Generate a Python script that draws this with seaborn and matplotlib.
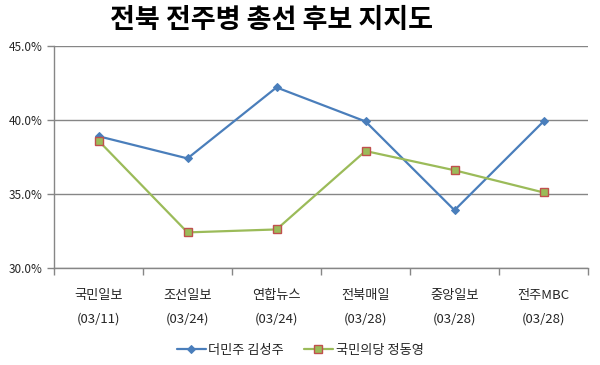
import matplotlib
matplotlib.use("Agg")
import matplotlib.pyplot as plt
import seaborn as sns
import pandas as pd
from matplotlib.ticker import FixedLocator, FuncFormatter

sns.set_theme(style="white")
plt.rcParams['font.family'] = ['Noto Sans CJK KR', 'DejaVu Sans']

pollsters = ["국민일보", "조선일보", "연합뉴스", "전북매일", "중앙일보", "전주MBC"]
dates = ["(03/11)", "(03/24)", "(03/24)", "(03/28)", "(03/28)", "(03/28)"]
series_names = ["더민주 김성주", "국민의당 정동영"]
kim = [38.9, 37.4, 42.2, 39.9, 33.9, 39.9]
jung = [38.6, 32.4, 32.6, 37.9, 36.6, 35.1]

rows = []
for i, p in enumerate(pollsters):
    rows.append({"x": i, "val": kim[i], "cand": series_names[0]})
    rows.append({"x": i, "val": jung[i], "cand": series_names[1]})
df = pd.DataFrame(rows)

fig = plt.figure(figsize=(6, 3.65), dpi=100)
ax = fig.add_axes([0.09, 0.266, 0.89, 0.608])

blue = "#4A7EBB"
green = "#9BBB59"
red = "#C0504D"

sns.lineplot(data=df[df.cand == series_names[0]], x="x", y="val", ax=ax,
             color=blue, lw=1.6, marker="D", markersize=4.5, markeredgecolor=blue,
             label=series_names[0], legend=False)
sns.lineplot(data=df[df.cand == series_names[1]], x="x", y="val", ax=ax,
             color=green, lw=1.6, marker="s", markersize=5.5, markerfacecolor=green,
             markeredgecolor=red, markeredgewidth=1.0,
             label=series_names[1], legend=False)

ax.set_xlim(-0.5, len(pollsters) - 0.5)
ax.set_ylim(30, 45)
ax.set_yticks([30, 35, 40, 45])
ax.yaxis.set_major_formatter(FuncFormatter(lambda v, p: f"{v:.1f}%"))
ax.grid(axis="y", color="#868686", lw=1)
ax.set_axisbelow(True)

ax.set_xticks(range(len(pollsters)))
ax.set_xticklabels([f"{p}\n{d}" for p, d in zip(pollsters, dates)],
                   fontsize=9.5, linespacing=2.1)
ax.xaxis.set_minor_locator(FixedLocator([i - 0.5 for i in range(len(pollsters) + 1)]))
ax.tick_params(axis="x", which="major", length=0, pad=15)
ax.tick_params(axis="x", which="minor", length=5, color="#868686", direction="out", width=1)
ax.tick_params(axis="y", length=5, color="#868686", direction="out", width=1, labelsize=8.5, pad=3)
ax.xaxis.set_tick_params(bottom=True, which="minor")
ax.yaxis.set_tick_params(left=True)

for s in ["top", "right"]:
    ax.spines[s].set_visible(False)
for s in ["left", "bottom"]:
    ax.spines[s].set_color("#868686")
    ax.spines[s].set_linewidth(1)

ax.set_xlabel("")
ax.set_ylabel("")

fig.text(0.453, 0.945, "전북 전주병 총선 후보 지지도", ha="center", va="center",
         fontsize=19.5, fontweight="bold", color="black")

handles, labels = ax.get_legend_handles_labels()
fig.legend(handles, labels, loc="center", bbox_to_anchor=(0.5, 0.04), ncol=2,
           frameon=False, fontsize=9.5, handlelength=2.2, handletextpad=0.2, columnspacing=1.5)

fig.savefig("out.png", dpi=100)
